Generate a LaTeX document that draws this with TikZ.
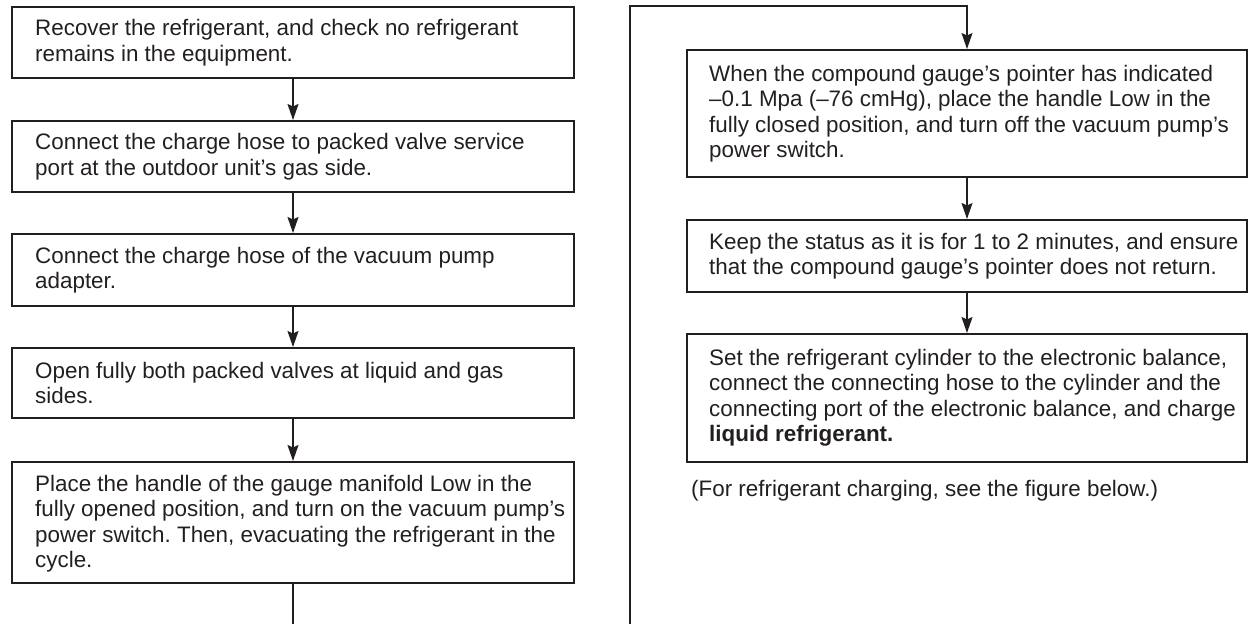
\documentclass[tikz,border=0pt]{standalone}
\usepackage{fontspec}
\setmainfont{Liberation Sans}
\usetikzlibrary{arrows.meta}
\definecolor{ink}{RGB}{35,31,32}
\frenchspacing
\begin{document}
\begin{tikzpicture}[x=1pt,y=-1pt,
  stepbox/.style={draw=ink, line width=2pt, inner sep=0pt, minimum width=562pt},
  rbox/.style={draw=ink, line width=2pt, inner sep=0pt, minimum width=560pt},
  txt/.style={anchor=west, align=left, inner sep=0pt, text=ink, font=\fontsize{22.4}{25.5}\selectfont},
  arr/.style={draw=ink, line width=1.6pt, -{Stealth[length=16pt,width=11pt,inset=2.5pt]}},
  ln/.style={draw=ink, line width=1.5pt}]
\useasboundingbox (0,0) rectangle (1250,624);
% left column
\node[stepbox, minimum height=71pt] (b1) at (293,42.5) {};
\node[stepbox, minimum height=71pt] (b2) at (293,156.5) {};
\node[stepbox, minimum height=72pt] (b3) at (293,270) {};
\node[stepbox, minimum height=70pt] (b4) at (293,383) {};
\node[stepbox, minimum height=121pt] (b5) at (293,522.5) {};
\node[txt] (t1) at ([xshift=24pt]b1.west) {Recover the refrigerant, and check no refrigerant\\remains in the equipment.};
\node[txt] (t2) at ([xshift=24pt]b2.west) {Connect the charge hose to packed valve service\\port at the outdoor unit’s gas side.};
\node[txt] (t3) at ([xshift=24pt]b3.west) {Connect the charge hose of the vacuum pump\\adapter.};
\node[txt] (t4) at ([xshift=24pt]b4.west) {Open fully both packed valves at liquid and gas\\sides.};
\node[txt] (t5) at ([xshift=24pt,yshift=-1pt]b5.west) {Place the handle of the gauge manifold Low in the\\fully opened position, and turn on the vacuum pump’s\\power switch. Then, evacuating the refrigerant in the\\cycle.};
% right column
\node[rbox, minimum height=127pt] (bA) at (967,113.5) {};
\node[rbox, minimum height=72pt] (bB) at (967,256) {};
\node[rbox, minimum height=128pt] (bC) at (967,398) {};
\node[txt] (tA) at ([xshift=23pt]bA.west) {When the compound gauge’s pointer has indicated\\–0.1 Mpa (–76 cmHg), place the handle Low in the\\fully closed position, and turn off the vacuum pump’s\\power switch.};
\node[txt] (tB) at ([xshift=23pt]bB.west) {Keep the status as it is for 1 to 2 minutes, and ensure\\that the compound gauge’s pointer does not return.};
\node[txt] (tC) at ([xshift=23pt]bC.west) {Set the refrigerant cylinder to the electronic balance,\\connect the connecting hose to the cylinder and the\\connecting port of the electronic balance, and charge\\\textbf{liquid refrigerant.}};
\node[txt] (note) at (691,491) {(For refrigerant charging, see the figure below.)};
% connectors
\coordinate (e1) at (293,624);
\coordinate (c1) at (630,624);
\coordinate (c2) at (630,6);
\draw[arr] (b1) -- (b2);
\draw[arr] (b2) -- (b3);
\draw[arr] (b3) -- (b4);
\draw[arr] (b4) -- (b5);
\draw[ln] (b5.south) -- (e1);
\draw[arr, line width=1.3pt] (c1) -- (c2) -- (bA.north |- c2) -- (bA.north);
\draw[arr] (bA) -- (bB);
\draw[arr] (bB) -- (bC);
\end{tikzpicture}
\end{document}
